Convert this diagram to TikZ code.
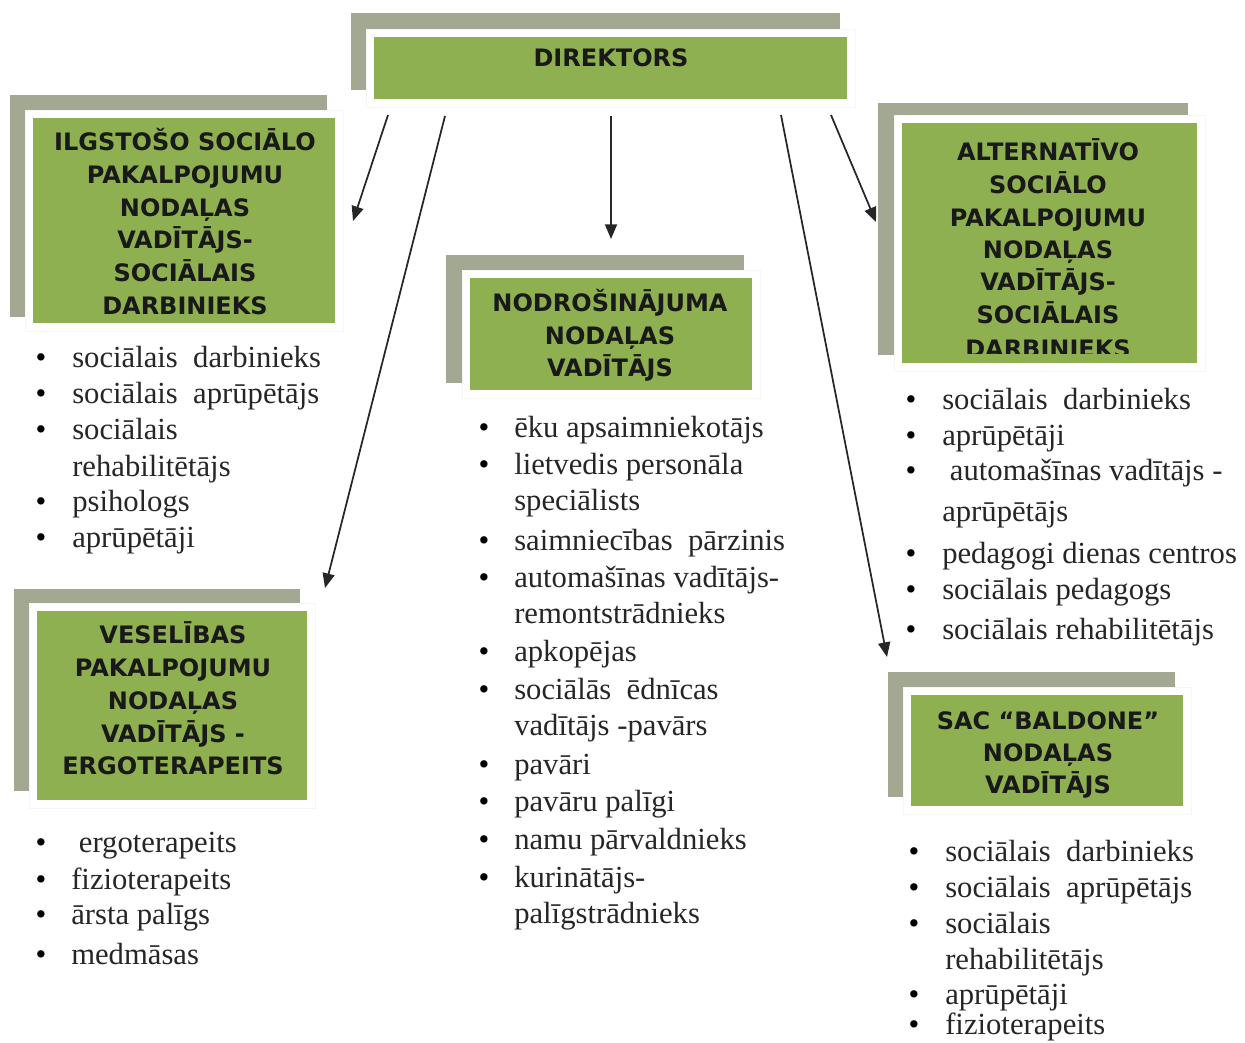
\documentclass[tikz,border=0pt]{standalone}
\usepackage{fontspec}
\setmainfont{Liberation Serif}
\newfontfamily\ttlfont{DejaVu Sans}
\usetikzlibrary{arrows.meta}
\definecolor{boxgreen}{RGB}{143,176,80}
\definecolor{boxgray}{RGB}{163,168,146}
\definecolor{boxrim}{RGB}{246,247,243}
\tikzset{
  ttl/.style={font=\ttlfont\bfseries\fontsize{18}{21}\selectfont, anchor=base, inner sep=0pt, text=black!90},
  itm/.style={font=\fontsize{23}{27}\selectfont, anchor=mid west, inner sep=0pt, text=black!85},
  bul/.style={font=\fontsize{23}{27}\selectfont, anchor=mid, inner sep=0pt},
  conn/.style={draw=black!85, line width=1.3pt, -{Triangle[length=11pt,width=9pt]}},
}
% gray back, white rim, green front
\newcommand\orgbox[9]{%
  \fill[boxgray] (#2,#3) rectangle (#4,#5);
  \fill[white] ({#6-8},{#7-8}) rectangle ({#8+8},{#9+8});
  \draw[boxrim, line width=0.6pt] ({#6-8},{#7-8}) rectangle ({#8+8},{#9+8});
  \node[fill=boxgreen, inner sep=0pt, minimum width={(#8-#6)*0.75pt}, minimum height={(#9-#7)*0.75pt}, anchor=north west] (#1) at (#6,#7) {};
}
\begin{document}
\begin{tikzpicture}[x=0.75pt, y=-0.75pt]
\useasboundingbox (0,0) rectangle (1245,1042);

% boxes
\orgbox{dir}{351}{13}{840}{90}{374}{37}{847}{99}
\orgbox{ilg}{10}{95}{327}{317}{33}{118}{335}{323}
\orgbox{nod}{446}{255}{744}{383}{470}{278}{752}{390}
\orgbox{alt}{878}{103}{1188}{355}{902}{123}{1197}{363}
\orgbox{ves}{14}{589}{300}{791}{37}{611}{307}{800}
\orgbox{sac}{888}{672}{1175}{797}{911}{695}{1183}{806}

% titles
\node[ttl] (dir-t) at (611,58+8) {DIREKTORS};
\foreach \y/\t [count=\i] in {142/ILGSTOŠO SOCIĀLO, 175/PAKALPOJUMU, 208/NODAĻAS, 240/VADĪTĀJS-, 273/SOCIĀLAIS, 306/DARBINIEKS}
  \node[ttl] (ilg-t\i) at (185,\y+8) {\t};
\foreach \y/\t [count=\i] in {303/NODROŠINĀJUMA, 336/NODAĻAS, 368/VADĪTĀJS}
  \node[ttl] (nod-t\i) at (610,\y+8) {\t};
\begin{scope}
  \clip (902,123) rectangle (1197,353);
  \foreach \y/\t [count=\i] in {152/ALTERNATĪVO, 185/SOCIĀLO, 218/PAKALPOJUMU, 250/NODAĻAS, 282/VADĪTĀJS-, 315/SOCIĀLAIS, 349/DARBINIEKS}
    \node[ttl] (alt-t\i) at (1048,\y+8) {\t};
\end{scope}
\foreach \y/\t [count=\i] in {635/VESELĪBAS, 668/PAKALPOJUMU, 701/NODAĻAS, 734/VADĪTĀJS -, 766/ERGOTERAPEITS}
  \node[ttl] (ves-t\i) at (173,\y+8) {\t};
\foreach \y/\t [count=\i] in {721/SAC “BALDONE”, 753/NODAĻAS, 785/VADĪTĀJS}
  \node[ttl] (sac-t\i) at (1048,\y+8) {\t};

% lists
\foreach \y/\t/\b [count=\i] in {357/sociālais\ \ darbinieks/1, 393/sociālais\ \ aprūpētājs/1, 429/sociālais/1, 466/rehabilitētājs/0, 501/psihologs/1, 537/aprūpētāji/1}{
  \node[itm] (ilg-l\i) at (72,\y+7) {\t};
  \ifnum\b=1 \node[bul] (ilg-b\i) at (41,\y+7) {•}; \fi
}
\foreach \y/\t/\b [count=\i] in {427/ēku apsaimniekotājs/1, 464/lietvedis personāla/1, 500/speciālists/0, 540/saimniecības\ \ pārzinis/1, 577/automašīnas vadītājs-/1, 613/remontstrādnieks/0, 651/apkopējas/1, 689/sociālās\ \ ēdnīcas/1, 725/vadītājs -pavārs/0, 764/pavāri/1, 801/pavāru palīgi/1, 839/namu pārvaldnieks/1, 877/kurinātājs-/1, 913/palīgstrādnieks/0}{
  \node[itm] (nod-l\i) at (514,\y+7) {\t};
  \ifnum\b=1 \node[bul] (nod-b\i) at (484,\y+7) {•}; \fi
}
\foreach \y/\t/\b [count=\i] in {399/sociālais\ \ darbinieks/1, 435/aprūpētāji/1, 470/\ automašīnas vadītājs -/1, 511/aprūpētājs/0, 553/pedagogi dienas centros/1, 589/sociālais pedagogs/1, 629/sociālais rehabilitētājs/1}{
  \node[itm] (alt-l\i) at (942,\y+7) {\t};
  \ifnum\b=1 \node[bul] (alt-b\i) at (911,\y+7) {•}; \fi
}
\foreach \y/\t/\b [count=\i] in {842/\ ergoterapeits/1, 879/fizioterapeits/1, 914/ārsta palīgs/1, 954/medmāsas/1}{
  \node[itm] (ves-l\i) at (71,\y+7) {\t};
  \ifnum\b=1 \node[bul] (ves-b\i) at (41,\y+7) {•}; \fi
}
\foreach \y/\t/\b [count=\i] in {851/sociālais\ \ darbinieks/1, 887/sociālais\ \ aprūpētājs/1, 923/sociālais/1, 959/rehabilitētājs/0, 994/aprūpētāji/1, 1024/fizioterapeits/1}{
  \node[itm] (sac-l\i) at (945,\y+7) {\t};
  \ifnum\b=1 \node[bul] (sac-b\i) at (914,\y+7) {•}; \fi
}

% connectors
\coordinate (s1) at (388,115); \coordinate (e1) at (353,221);
\coordinate (s2) at (445,116); \coordinate (e2) at (325,588);
\coordinate (s3) at (611,116); \coordinate (e3) at (611,239);
\coordinate (s4) at (781,115); \coordinate (e4) at (887,657);
\coordinate (s5) at (831,115); \coordinate (e5) at (876,222);
\foreach \k in {1,...,5} \draw[conn] (s\k) -- (e\k);
\end{tikzpicture}
\end{document}
